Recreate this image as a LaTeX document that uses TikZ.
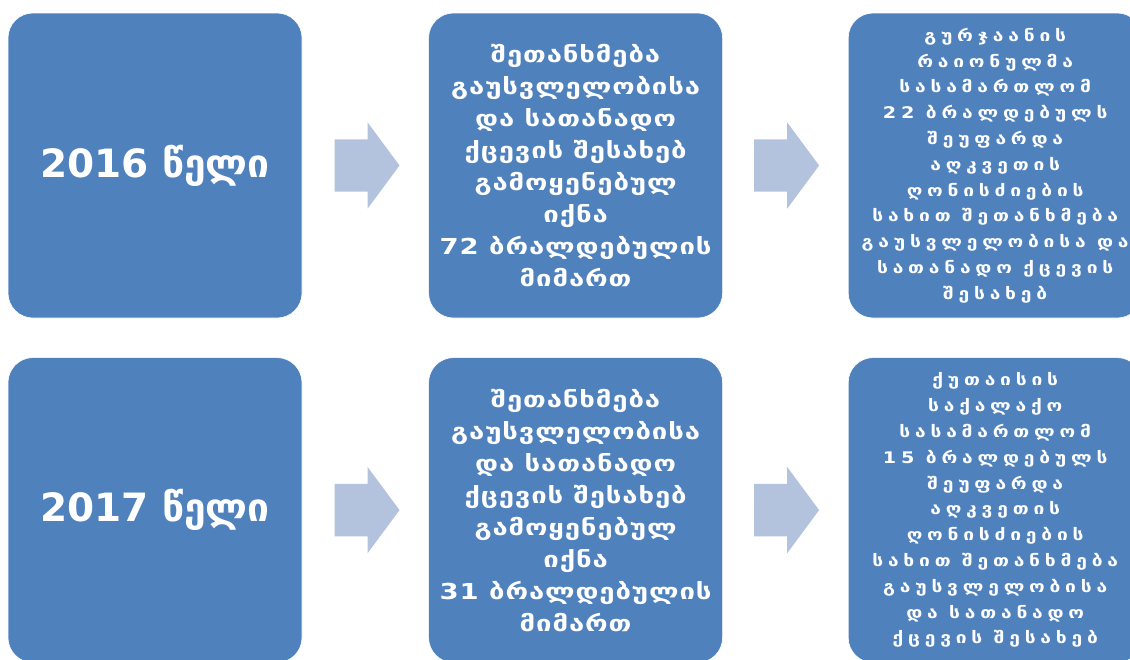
\documentclass[tikz,border=0pt]{standalone}
\usepackage{fontspec}
\setmainfont{DejaVu Sans}
\newfontfamily\widegeo{DejaVu Sans}[FakeStretch=1.25, LetterSpace=4]
\newfontfamily\spacedgeo{DejaVu Sans}[FakeStretch=1.2, LetterSpace=30]
\usetikzlibrary{positioning,calc,shapes.arrows}
\definecolor{boxblue}{HTML}{4F81BD}
\definecolor{arrowblue}{HTML}{B3C3DE}

\begin{document}
\begin{tikzpicture}[x=1pt,y=-1pt,
  stagebox/.style={fill=boxblue, draw=white, line width=0.6pt, rounded corners=25pt,
    minimum width=294pt, minimum height=305pt, inner sep=0pt, text=white, align=center},
  yearbox/.style={stagebox, font=\bfseries\fontsize{39}{46}\selectfont},
  measurebox/.style={stagebox, font=\widegeo\bfseries\fontsize{22}{32}\selectfont},
  courtbox/.style={stagebox, font=\spacedgeo\bfseries\fontsize{16}{25.8}\selectfont},
  blockarrow/.style={single arrow, fill=arrowblue, inner xsep=0pt, inner ysep=26pt,
    shape border rotate=0, minimum height=65pt, single arrow head extend=17pt,
    single arrow tip angle=107, anchor=tail}]
  \useasboundingbox (0,0) rectangle (1130,659);
  \clip (0,0) rectangle (1130,659);
  % 2016
  \node[yearbox] (y16) at (155,165.5) {2016 წელი};
  \node[measurebox, right=126pt of y16] (m16) {შეთანხმება\\გაუსვლელობისა\\და სათანადო\\ქცევის შესახებ\\გამოყენებულ\\იქნა\\72 ბრალდებულის\\მიმართ};
  \node[courtbox, right=125pt of m16] (c16) {გურჯაანის\\რაიონულმა\\სასამართლომ\\22 ბრალდებულს\\შეუფარდა\\აღკვეთის\\ღონისძიების\\სახით შეთანხმება\\გაუსვლელობისა და\\სათანადო ქცევის\\შესახებ};
  \node[blockarrow, right=32pt of y16] (a16) {};
  \node[blockarrow, right=31pt of m16] (b16) {};
  % 2017
  \node[yearbox, below=39pt of y16] (y17) {2017 წელი};
  \node[measurebox, right=126pt of y17] (m17) {შეთანხმება\\გაუსვლელობისა\\და სათანადო\\ქცევის შესახებ\\გამოყენებულ\\იქნა\\31 ბრალდებულის\\მიმართ};
  \node[courtbox, right=125pt of m17] (c17) {ქუთაისის\\საქალაქო\\სასამართლომ\\15 ბრალდებულს\\შეუფარდა\\აღკვეთის\\ღონისძიების\\სახით შეთანხმება\\გაუსვლელობისა\\და სათანადო\\ქცევის შესახებ};
  \node[blockarrow, right=32pt of y17] (a17) {};
  \node[blockarrow, right=31pt of m17] (b17) {};
\end{tikzpicture}
\end{document}
